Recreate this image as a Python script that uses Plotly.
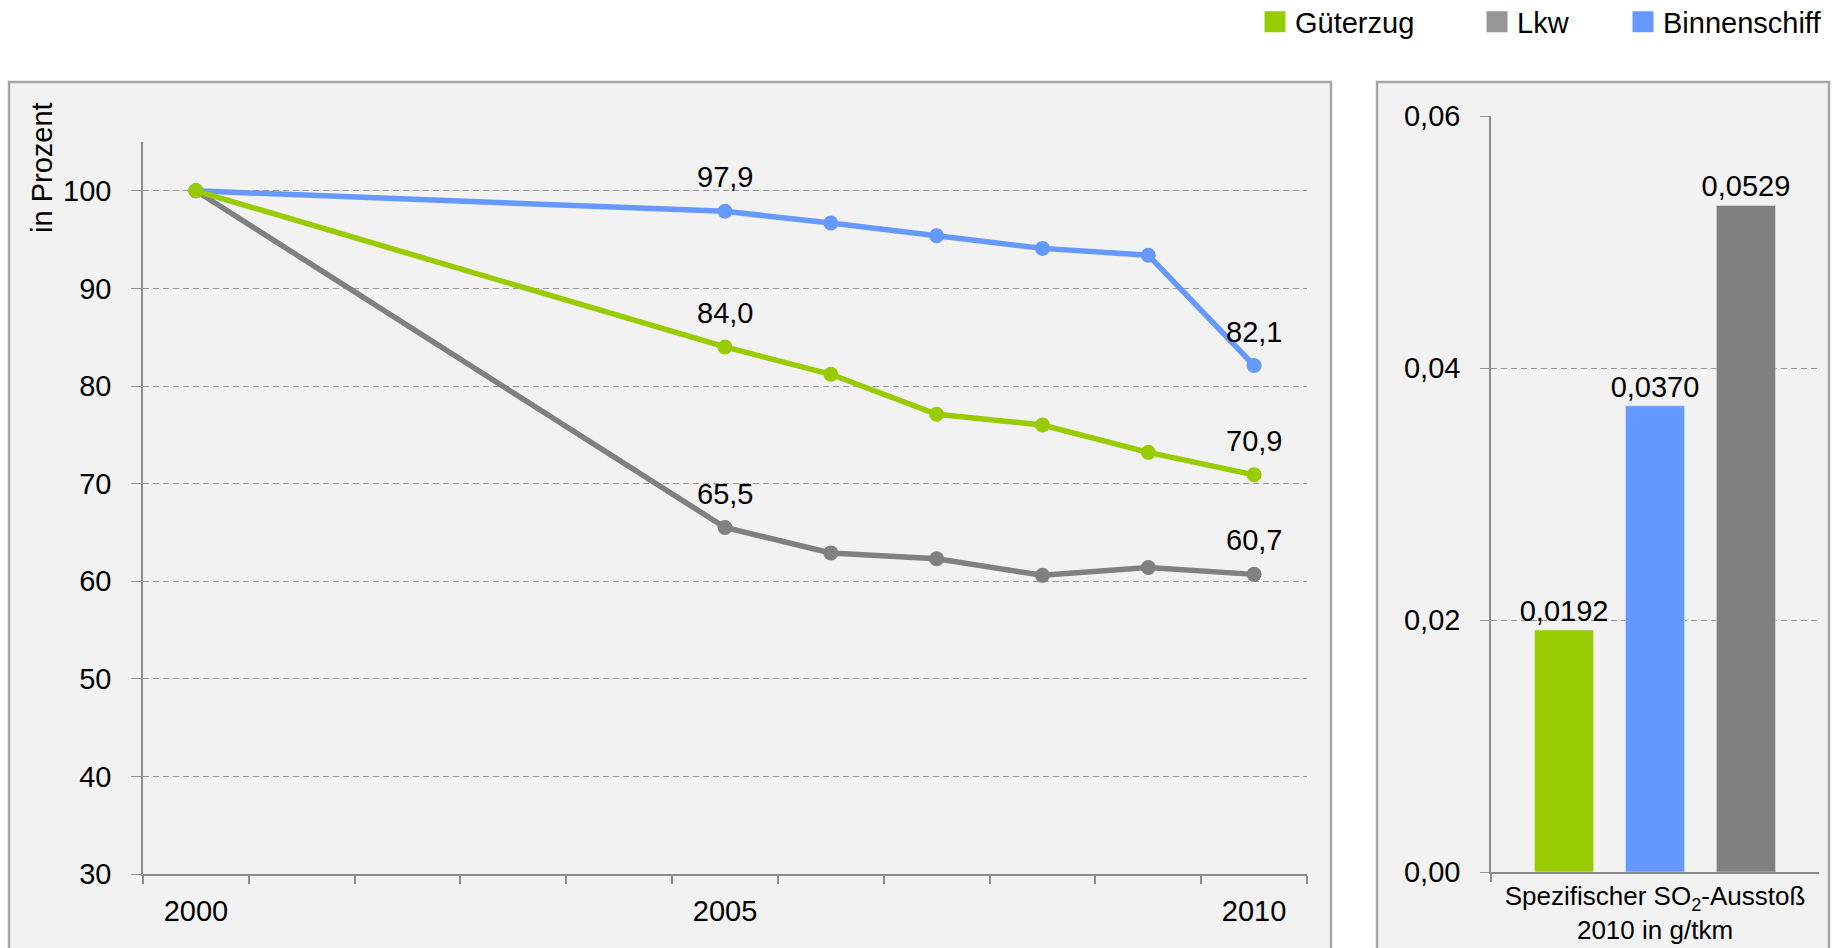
import plotly.graph_objects as go

# ---------------- data ----------------
years = [2000, 2005, 2006, 2007, 2008, 2009, 2010]
gueterzug = [100.0, 84.0, 81.2, 77.1, 76.0, 73.2, 70.9]
lkw = [100.0, 65.5, 62.9, 62.3, 60.6, 61.4, 60.7]
binnenschiff = [100.0, 97.9, 96.7, 95.4, 94.1, 93.4, 82.1]
labeled_years = [2005, 2010]
year_ticks = [2000, 2005, 2010]
pct_ticks = [30, 40, 50, 60, 70, 80, 90, 100]

bar_category = "Spezifischer SO<sub>2</sub>-Ausstoß<br>2010 in g/tkm"
bar_series = ["Güterzug", "Binnenschiff", "Lkw"]
bar_values = [0.0192, 0.0370, 0.0529]
bar_ticks = [0.0, 0.02, 0.04, 0.06]

legend_names = ["Güterzug", "Lkw", "Binnenschiff"]

# ---------------- style ----------------
W, H = 1843, 948
FONT = "Liberation Sans, Arial, sans-serif"
COL = {"Güterzug": "#99CC00", "Lkw": "#808080", "Binnenschiff": "#6699FF"}
LEG_COL = {"Güterzug": "#99CC00", "Lkw": "#969696", "Binnenschiff": "#6699FF"}
GRID = "#969696"
AXIS = "#8C8C8C"

def px_x(p):
    return p / W

def px_y(p):
    return 1 - p / H

fig = go.Figure()

series = {"Güterzug": gueterzug, "Lkw": lkw, "Binnenschiff": binnenschiff}
for name in ["Lkw", "Binnenschiff", "Güterzug"]:
    fig.add_trace(go.Scatter(
        x=years, y=series[name], mode="lines+markers", name=name,
        line=dict(color=COL[name], width=5.5),
        marker=dict(color=COL[name], size=15),
        showlegend=False, xaxis="x", yaxis="y", cliponaxis=False,
    ))

annotations = []
for name in ["Güterzug", "Lkw", "Binnenschiff"]:
    for yr, v in zip(years, series[name]):
        if yr in labeled_years:
            annotations.append(dict(
                x=yr, y=v, xref="x", yref="y", text=f"{v:.1f}".replace(".", ","),
                showarrow=False, yshift=34, yanchor="middle",
                font=dict(size=29, color="black", family=FONT),
            ))

for name, v in zip(bar_series, bar_values):
    fig.add_trace(go.Bar(
        x=[bar_category], y=[v], name=name, marker=dict(color=COL[name]),
        texttemplate="%{y:.4f}", textposition="outside", constraintext="none",
        textfont=dict(size=29, color="black", family=FONT),
        showlegend=False, xaxis="x2", yaxis="y2", cliponaxis=False,
    ))

leg_keys = ["legend", "legend2", "legend3"]
leg_x = [1255, 1477, 1623]
for name, lk in zip(legend_names, leg_keys):
    fig.add_trace(go.Scatter(
        x=[None], y=[None], mode="markers", name=name, legend=lk,
        marker=dict(symbol="square", size=16, color=LEG_COL[name],
                    line=dict(color=LEG_COL[name], width=5)),
        xaxis="x", yaxis="y", showlegend=True,
    ))

leg_common = dict(orientation="h", xanchor="left", yanchor="middle",
                  xref="container", yref="container",
                  y=px_y(22), bgcolor="rgba(0,0,0,0)", itemsizing="trace",
                  font=dict(size=29, color="black", family=FONT))
layout_legends = {}
for lk, lx in zip(leg_keys, leg_x):
    layout_legends[lk] = dict(x=px_x(lx), **leg_common)

shapes = [
    dict(type="rect", xref="paper", yref="paper", x0=px_x(9), x1=px_x(1331),
         y0=px_y(960), y1=px_y(82), fillcolor="#F2F2F2",
         line=dict(color="#A6A6A6", width=2.5), layer="below"),
    dict(type="rect", xref="paper", yref="paper", x0=px_x(1377), x1=px_x(1829),
         y0=px_y(960), y1=px_y(82), fillcolor="#F2F2F2",
         line=dict(color="#A6A6A6", width=2.5), layer="below"),
]

annotations.append(dict(
    x=px_x(42), y=px_y(168), xref="paper", yref="paper", text="in Prozent",
    textangle=-90, showarrow=False, xanchor="center", yanchor="middle",
    font=dict(size=29, color="black", family=FONT),
))

fig.update_layout(
    width=W, height=H, margin=dict(l=0, r=0, t=0, b=0, autoexpand=False),
    paper_bgcolor="white", plot_bgcolor="rgba(0,0,0,0)",
    font=dict(family=FONT, size=29, color="black"),
    separators=",.",
    barmode="group", bargap=0.168, bargroupgap=0.35,
    shapes=shapes, annotations=annotations,
    xaxis=dict(
        domain=[px_x(143), px_x(1307)], range=[1999.5, 2010.5],
        tickvals=year_ticks, ticktext=[str(y) for y in year_ticks],
        ticks="", showgrid=False, zeroline=False,
        showline=True, linecolor=AXIS, linewidth=2,
        tickfont=dict(size=29, color="black"), ticklabelstandoff=10,
        minor=dict(ticks="outside", tick0=1999.5, dtick=1, ticklen=8,
                   tickcolor=AXIS, tickwidth=1.5, showgrid=False),
        anchor="y", fixedrange=True, automargin=False,
    ),
    yaxis=dict(
        domain=[px_y(874), px_y(142)], range=[30, 105],
        tickvals=pct_ticks, ticks="outside", ticklen=10, tickcolor=GRID, tickwidth=1.3,
        showgrid=True, gridcolor=GRID, gridwidth=1.3, griddash="6px,4px",
        showline=True, linecolor=AXIS, linewidth=1.5, zeroline=False,
        tickfont=dict(size=29, color="black"), ticklabelstandoff=14,
        anchor="x", fixedrange=True, automargin=False,
    ),
    xaxis2=dict(
        domain=[px_x(1491), px_x(1819)], type="category",
        tickson="boundaries", ticks="outside", ticklen=8, tickcolor=AXIS, tickwidth=1.5,
        showline=True, linecolor=AXIS, linewidth=2, showgrid=False,
        tickfont=dict(size=26, color="black"), ticklabelstandoff=0,
        anchor="y2", fixedrange=True, automargin=False,
    ),
    yaxis2=dict(
        domain=[px_y(872), px_y(116)], range=[0, 0.06],
        tickvals=bar_ticks, tickformat=".2f", ticks="outside", ticklen=9,
        tickcolor=GRID, tickwidth=1.3,
        showgrid=True, gridcolor=GRID, gridwidth=1.3, griddash="6px,4px",
        showline=True, linecolor=AXIS, linewidth=1.5, zeroline=False,
        tickfont=dict(size=29, color="black"), ticklabelstandoff=14,
        anchor="x2", fixedrange=True, automargin=False,
    ),
    **layout_legends,
)

fig.write_html(
    "out.html",
    config={"displayModeBar": False},
    post_script="document.body.style.margin='0';document.body.style.overflow='hidden';",
)
